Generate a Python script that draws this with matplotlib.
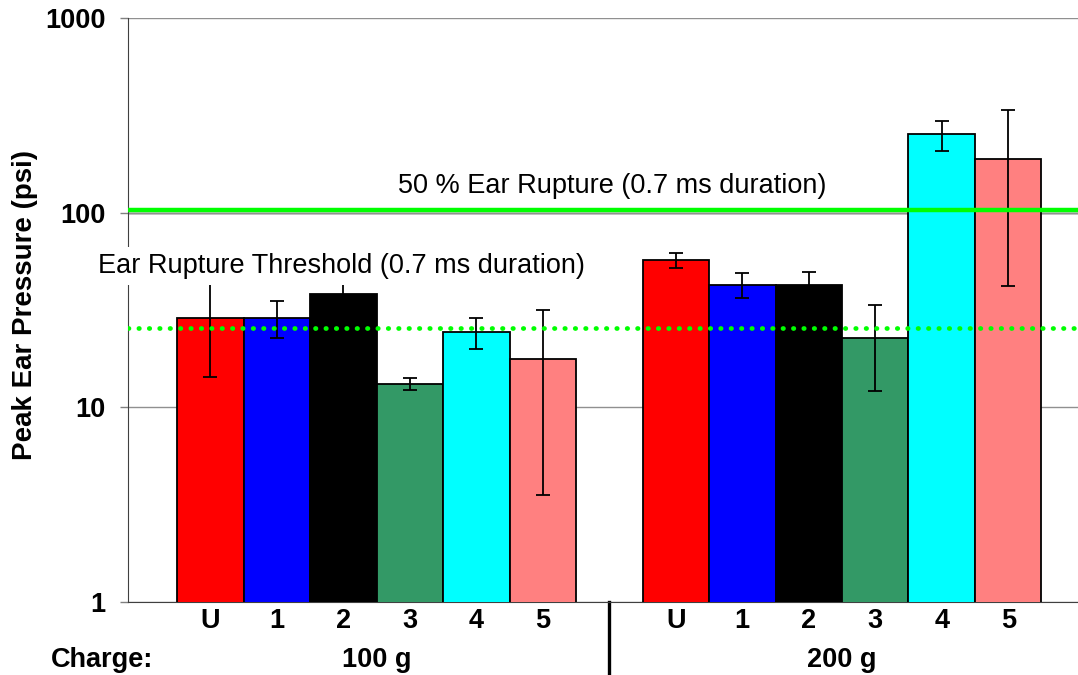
import numpy as np
import matplotlib
matplotlib.use('Agg')
import matplotlib.pyplot as plt
import matplotlib.transforms as mtransforms

plt.rcParams['font.family'] = ['Liberation Sans', 'DejaVu Sans']

# data (psi, log scale)
labels = ['U', '1', '2', '3', '4', '5']
colors = ['#ff0000', '#0000ff', '#000000', '#339966', '#00ffff', '#ff8080']
charges = ['100 g', '200 g']

peak_100 = [28.7, 28.9, 38.0, 13.2, 24.4, 17.7]
low_100 = [14.3, 22.6, 34.0, 12.3, 19.9, 3.55]
high_100 = [43.0, 35.0, 43.0, 14.1, 28.8, 31.7]

peak_200 = [57.1, 42.6, 42.5, 22.7, 252.6, 187.8]
low_200 = [51.9, 36.4, 36.0, 12.1, 208.0, 42.0]
high_200 = [62.3, 49.1, 49.7, 33.4, 297.0, 336.0]

rupture_50 = 103.0
rupture_threshold = 25.5

fig = plt.figure(figsize=(10.78, 6.75), dpi=100)
ax = fig.add_axes([128 / 1078, 1 - 602 / 675, 950 / 1078, 584 / 675])

x1 = np.arange(6)
x2 = np.arange(6) + 7
for xs, peak, lo, hi in [(x1, peak_100, low_100, high_100), (x2, peak_200, low_200, high_200)]:
    peak = np.array(peak)
    ax.bar(xs, peak, width=1.0, color=colors, edgecolor='black', linewidth=1.3, zorder=3)
    yerr = [peak - np.array(lo), np.array(hi) - peak]
    ax.errorbar(xs, peak, yerr=yerr, fmt='none', ecolor='black', elinewidth=1.3,
                capsize=5, capthick=1.3, zorder=4)

ax.set_yscale('log')
ax.set_ylim(1, 1000)
ax.set_xlim(-1.24, 13.05)

# reference lines
ax.axhline(100, color='black', lw=1, zorder=1)
ax.axhline(rupture_50, color='#00ff00', lw=3.2, zorder=5)
ax.axhline(rupture_threshold, color='#00ff00', lw=3.4, linestyle=(0, (0.1, 2.1)),
           dash_capstyle='round', zorder=5)

ax.text(6.05, 137, '50 % Ear Rupture (0.7 ms duration)', fontsize=19.5, ha='center', va='center',
        bbox=dict(facecolor='white', edgecolor='none', pad=3), zorder=6)
ax.text(-1.69, 53.2, 'Ear Rupture Threshold (0.7 ms duration)', fontsize=19.5, ha='left', va='center',
        bbox=dict(facecolor='white', edgecolor='none', pad=4), zorder=6, clip_on=False)

ax.set_yticks([1, 10, 100, 1000])
ax.set_yticklabels(['1', '10', '100', '1000'], fontsize=19.5, fontweight='bold')
ax.yaxis.set_minor_locator(matplotlib.ticker.NullLocator())
ax.tick_params(axis='y', length=6, width=1, color='#808080', pad=10)
ax.grid(axis='y', which='major', color='#909090', lw=1, zorder=0)

ax.set_xticks(list(x1) + list(x2))
ax.set_xticklabels(labels + labels, fontsize=19.5, fontweight='bold')
ax.tick_params(axis='x', length=0, pad=4)

for s in ['top', 'right']:
    ax.spines[s].set_visible(False)
ax.spines['left'].set_color('#404040')
ax.spines['left'].set_zorder(2)
ax.spines['bottom'].set_color('#404040')

trans = mtransforms.blended_transform_factory(ax.transData, ax.transAxes)
ax.text(np.mean(x1), -0.099, charges[0], transform=trans, fontsize=19.5, fontweight='bold',
        ha='center', va='center')
ax.text(np.mean(x2), -0.099, charges[1], transform=trans, fontsize=19.5, fontweight='bold',
        ha='center', va='center')
fig.text(102 / 1078, 1 - 660 / 675, 'Charge:', fontsize=19.5, fontweight='bold', ha='center', va='center')
ax.plot([6, 6], [0.0, -0.125], transform=trans, color='black', lw=2.4, clip_on=False)

fig.text(25 / 1078, 1 - 305 / 675, 'Peak Ear Pressure (psi)', fontsize=20, fontweight='bold',
         rotation=90, ha='center', va='center')

fig.savefig('out.png', dpi=100)
